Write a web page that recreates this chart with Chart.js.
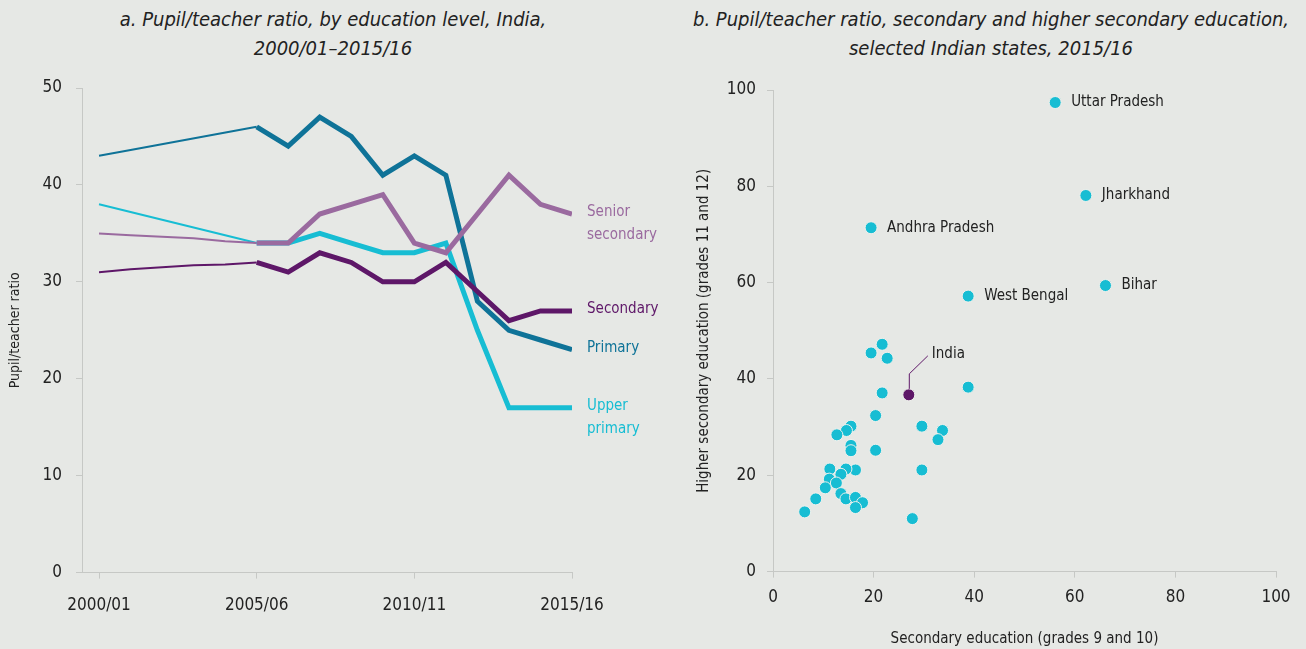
<!DOCTYPE html>
<html>
<head>
<meta charset="utf-8">
<script src="https://cdn.jsdelivr.net/npm/chart.js@4.4.1/dist/chart.umd.min.js"></script>
<style>
  body { margin: 0; background: #e6e8e5; width: 1306px; height: 649px; position: relative; overflow: hidden;
         font-family: "Liberation Sans Narrow", "DejaVu Sans Condensed", Roboto, sans-serif; }
  .title { position: absolute; top: 5px; transform: translateX(-50%); white-space: nowrap; text-align: center;
           font-style: italic; font-size: 20px; line-height: 29px; color: #222; }
  canvas { position: absolute; top: 0; }
</style>
</head>
<body>
<div class="title" style="left:333px">a. Pupil/teacher ratio, by education level, India,<br>2000/01–2015/16</div>
<div class="title" style="left:991px">b. Pupil/teacher ratio, secondary and higher secondary education,<br>selected Indian states, 2015/16</div>
<canvas id="trend" width="660" height="649" style="left:0"></canvas>
<canvas id="states" width="646" height="649" style="left:660px"></canvas>
<script>
const FONT = '"Liberation Sans Narrow", "DejaVu Sans Condensed", Roboto, sans-serif';
const INK = '#222222';
const AXIS = '#c6c8c5';

// panel a: ratio by level, school years 2000/01 .. 2015/16 (null = no figure that year)
const years = ['2000/01', '2001/02', '2002/03', '2003/04', '2004/05', '2005/06', '2006/07', '2007/08',
               '2008/09', '2009/10', '2010/11', '2011/12', '2012/13', '2013/14', '2014/15', '2015/16'];
const yearTicks = [0, 5, 10, 15];
const primary         = [43, 43.6, null, null, null, 46, 44, 47, 45, 41, 43, 41, 28, 25, 24, 23];
const upperPrimary    = [38, null, null, null, null, 34, 34, 35, 34, 33, 33, 34, 25, 17, 17, 17];
const secondary       = [31, 31.3, null, 31.7, 31.8, 32, 31, 33, 32, 30, 30, 32, 29, 26, 27, 27];
const seniorSecondary = [35, 34.8, null, 34.5, 34.2, 34, 34, 37, 38, 39, 34, 33, 37, 41, 38, 37];

// panel b: secondary vs higher secondary ratio by state, 2015/16
const namedStates    = ['Uttar Pradesh', 'Jharkhand', 'Andhra Pradesh', 'West Bengal', 'Bihar'];
const namedSecondary = [56.1, 62.2, 19.5, 38.8, 66.1];
const namedHigher    = [97.4, 78.1, 71.4, 57.2, 59.4];
const otherSecondary = [21.7, 19.5, 22.7, 21.7, 38.8, 20.4, 29.6, 33.7, 32.8, 15.5, 14.6, 12.7, 15.5, 15.5, 20.4, 29.6,
                        16.4, 14.5, 11.3, 13.5, 11.2, 12.6, 10.4, 13.5, 14.5, 16.4, 17.8, 16.4, 8.5, 6.3, 27.7];
const otherHigher    = [47.2, 45.4, 44.3, 37.1, 38.3, 32.4, 30.2, 29.3, 27.4, 30.2, 29.3, 28.4, 26.2, 25.1, 25.2, 21.1,
                        21.1, 21.3, 21.3, 20.2, 19.2, 18.4, 17.4, 16.2, 15.1, 15.4, 14.3, 13.3, 15.1, 12.4, 11.0];
const indiaSecondary = 27.0;
const indiaHigher    = 36.7;

const series = [
  { label: ['Senior', 'secondary'], values: seniorSecondary, color: '#9a6a9f' },
  { label: ['Secondary'],           values: secondary,       color: '#5e1768' },
  { label: ['Primary'],             values: primary,         color: '#0f7398' },
  { label: ['Upper', 'primary'],    values: upperPrimary,    color: '#17bdd3' }
];

function pick(values, from, to) {
  const pts = [];
  values.forEach((v, i) => {
    if (v !== null && i >= from && i <= to) pts.push({ x: i, y: v });
  });
  return pts;
}

// thick lines from 2005/06 on, thin before it
const trendSets = [];
series.forEach(s => trendSets.push({ data: pick(s.values, 5, 15), borderColor: s.color, borderWidth: 5 }));
series.forEach(s => trendSets.push({ data: pick(s.values, 0, 5), borderColor: s.color, borderWidth: 2 }));
trendSets.forEach(d => Object.assign(d, { pointRadius: 0, tension: 0, fill: false, borderJoinStyle: 'miter' }));

const endLabels = {
  id: 'endLabels',
  afterDatasetsDraw(chart) {
    const { ctx, scales: { x, y } } = chart;
    ctx.save();
    ctx.font = '15px ' + FONT;
    ctx.textBaseline = 'middle';
    series.forEach(s => {
      const last = s.values.length - 1;
      const px = x.getPixelForValue(last) + 15;
      let py = y.getPixelForValue(s.values[last]) - 2;
      ctx.fillStyle = s.color;
      s.label.forEach(line => { ctx.fillText(line, px, py); py += 23; });
    });
    ctx.restore();
  }
};

const axisGrid = { display: true, drawOnChartArea: false, drawTicks: true, tickLength: 6, color: AXIS };
const axisBorder = { display: true, color: AXIS, width: 1 };

new Chart(document.getElementById('trend'), {
  type: 'line',
  data: { datasets: trendSets },
  plugins: [endLabels],
  options: {
    responsive: false, animation: false, devicePixelRatio: 1,
    layout: { padding: { left: 2, right: 88, top: 88, bottom: 16 } },
    plugins: { legend: { display: false }, tooltip: { enabled: false } },
    scales: {
      x: {
        type: 'linear', min: -0.54, max: 15,
        afterBuildTicks: scale => { scale.ticks = yearTicks.map(v => ({ value: v })); },
        grid: axisGrid, border: axisBorder,
        ticks: { color: INK, padding: 17, maxRotation: 0, font: { family: FONT, size: 17 }, callback: v => years[v] }
      },
      y: {
        min: 0, max: 50,
        afterFit: scale => { scale.width = 80; },
        grid: axisGrid, border: axisBorder,
        ticks: { stepSize: 10, color: INK, padding: 14, font: { family: FONT, size: 17 } },
        title: { display: true, text: 'Pupil/teacher ratio', color: INK, padding: { top: 5, bottom: 0 },
                 font: { family: FONT, size: 14 } }
      }
    }
  }
});

const stateLabels = {
  id: 'stateLabels',
  afterDatasetsDraw(chart) {
    const { ctx, scales: { x, y } } = chart;
    ctx.save();
    ctx.font = '15px ' + FONT;
    ctx.fillStyle = INK;
    ctx.textBaseline = 'middle';
    namedStates.forEach((name, i) => {
      ctx.fillText(name, x.getPixelForValue(namedSecondary[i]) + 16, y.getPixelForValue(namedHigher[i]));
    });
    // leader line for the national average
    const ix = x.getPixelForValue(indiaSecondary);
    const iy = y.getPixelForValue(indiaHigher);
    ctx.strokeStyle = '#5e1768';
    ctx.lineWidth = 1;
    ctx.beginPath();
    ctx.moveTo(ix + 0.5, iy - 6);
    ctx.lineTo(ix + 0.5, iy - 21);
    ctx.lineTo(ix + 19, iy - 39);
    ctx.stroke();
    ctx.fillText('India', ix + 23, iy - 41);
    ctx.restore();
  }
};

const dot = { pointRadius: 6, pointBorderWidth: 1, pointBorderColor: '#eef0ec' };

new Chart(document.getElementById('states'), {
  type: 'scatter',
  data: {
    datasets: [
      Object.assign({ data: [{ x: indiaSecondary, y: indiaHigher }], pointBackgroundColor: '#5e1768' }, dot),
      Object.assign({ data: namedSecondary.map((v, i) => ({ x: v, y: namedHigher[i] })), pointBackgroundColor: '#17bdd3' }, dot),
      Object.assign({ data: otherSecondary.map((v, i) => ({ x: v, y: otherHigher[i] })), pointBackgroundColor: '#17bdd3' }, dot)
    ]
  },
  plugins: [stateLabels],
  options: {
    responsive: false, animation: false, devicePixelRatio: 1,
    layout: { padding: { left: 31, right: 30, top: 90, bottom: 0 } },
    plugins: { legend: { display: false }, tooltip: { enabled: false } },
    scales: {
      x: {
        min: 0, max: 100,
        grid: axisGrid, border: axisBorder,
        ticks: { stepSize: 20, color: INK, padding: 10, maxRotation: 0, font: { family: FONT, size: 17 } },
        title: { display: true, text: 'Secondary education (grades 9 and 10)', color: INK, padding: { top: 12, bottom: 1 },
                 font: { family: FONT, size: 15 } }
      },
      y: {
        min: 0, max: 100,
        afterFit: scale => { scale.width = 82; },
        grid: axisGrid, border: axisBorder,
        ticks: { stepSize: 20, color: INK, padding: 11, font: { family: FONT, size: 17 } },
        title: { display: true, text: 'Higher secondary education (grades 11 and 12)', color: INK, padding: { top: 4, bottom: 0 },
                 font: { family: FONT, size: 15 } }
      }
    }
  }
});
</script>
</body>
</html>
